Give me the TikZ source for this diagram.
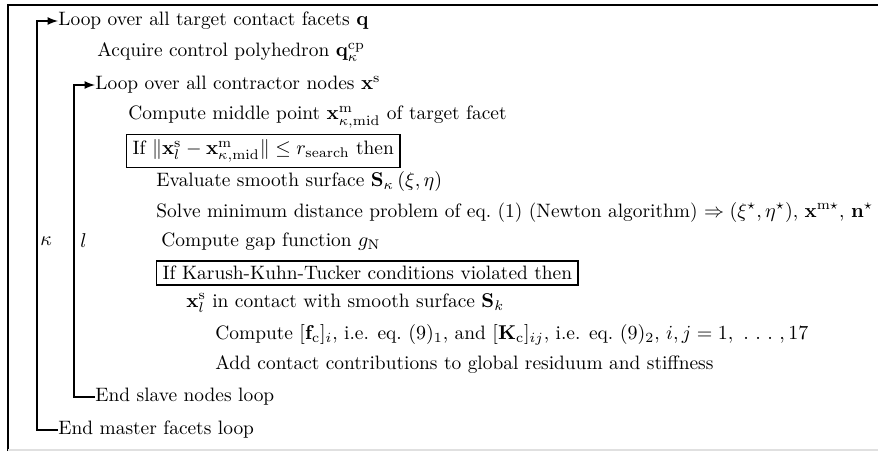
\documentclass[tikz,border=0pt]{standalone}
\usepackage{amsfonts,amssymb}
\usepackage{amsmath}
\usetikzlibrary{arrows,calc}

\begin{document}
\begin{tikzpicture}[x=0.5pt,y=0.5pt]
\tikzstyle{every node}+=[inner sep=0pt,anchor=west,font=\fontsize{9.7}{11.5}\selectfont]
\tikzstyle{cond}=[draw,line width=0.7pt,inner xsep=3pt,inner ysep=2.5pt]
\tikzstyle{loopline}=[line width=0.8pt]
\useasboundingbox (0,0) rectangle (878,-451);
% frame
\draw [line width=1pt] (8,-451) -- (8,-5) -- (878,-5);
\draw [black!12,line width=0.6pt] (8,-450) -- (878,-450);
% statements
\node (loopq) at (58,-21) {Loop over all target contact facets $\mathbf{q}$};
\node (acq) at (97,-52) {Acquire control polyhedron $\mathbf{q}^{\mathrm{cp}}_{\kappa}$};
\node (loopx) at (95,-85) {Loop over all contractor nodes $\mathbf{x}^{\mathrm{s}}$};
\node (mid) at (128,-117) {Compute middle point $\mathbf{x}^{\mathrm{m}}_{\kappa,\mathrm{mid}}$ of target facet};
\node [cond] (ifr) at (126,-151) {If $\|\mathbf{x}^{\mathrm{s}}_{l}-\mathbf{x}^{\mathrm{m}}_{\kappa,\mathrm{mid}}\|\le r_{\mathrm{search}}$ then};
\node (eval) at (156,-181) {Evaluate smooth surface $\mathbf{S}_{\kappa}\,(\xi,\eta)$};
\node (solve) at (156,-212) {Solve minimum distance problem of eq.~(1) (Newton algorithm) $\Rightarrow(\xi^{\star},\eta^{\star})$, $\mathbf{x}^{\mathrm{m}\star}$, $\mathbf{n}^{\star}$};
\node (gap) at (161,-242) {Compute gap function $g_{\mathrm{N}}$};
\node [cond] (ifk) at (156,-273) {If Karush-Kuhn-Tucker conditions violated then};
\node (cont) at (186,-303) {$\mathbf{x}^{\mathrm{s}}_{l}$ in contact with smooth surface $\mathbf{S}_{k}$};
\node (fk) at (215,-335) {Compute $[\mathbf{f}_{\mathrm{c}}]_{i}$, i.e. eq.~$(9)_1$, and $[\mathbf{K}_{\mathrm{c}}]_{ij}$, i.e. eq.~$(9)_2$, $i,j=1,\ .\ .\ .\ ,17$};
\node (add) at (215,-365) {Add contact contributions to global residuum and stiffness};
\node (ends) at (95,-397) {End slave nodes loop};
\node (endm) at (58,-430) {End master facets loop};
% loop indices
\node (kap) at (40,-241) {$\kappa$};
\node (ell) at (80,-241) {$l$};
% loop brackets
\coordinate (oq) at (37,-21);
\coordinate (ox) at (74,-85);
\draw [loopline,-latex] (endm.west) -| (oq) -- (loopq.west);
\draw [loopline,-latex] (ends.west) -| (ox) -- (loopx.west);
\end{tikzpicture}
\end{document}
